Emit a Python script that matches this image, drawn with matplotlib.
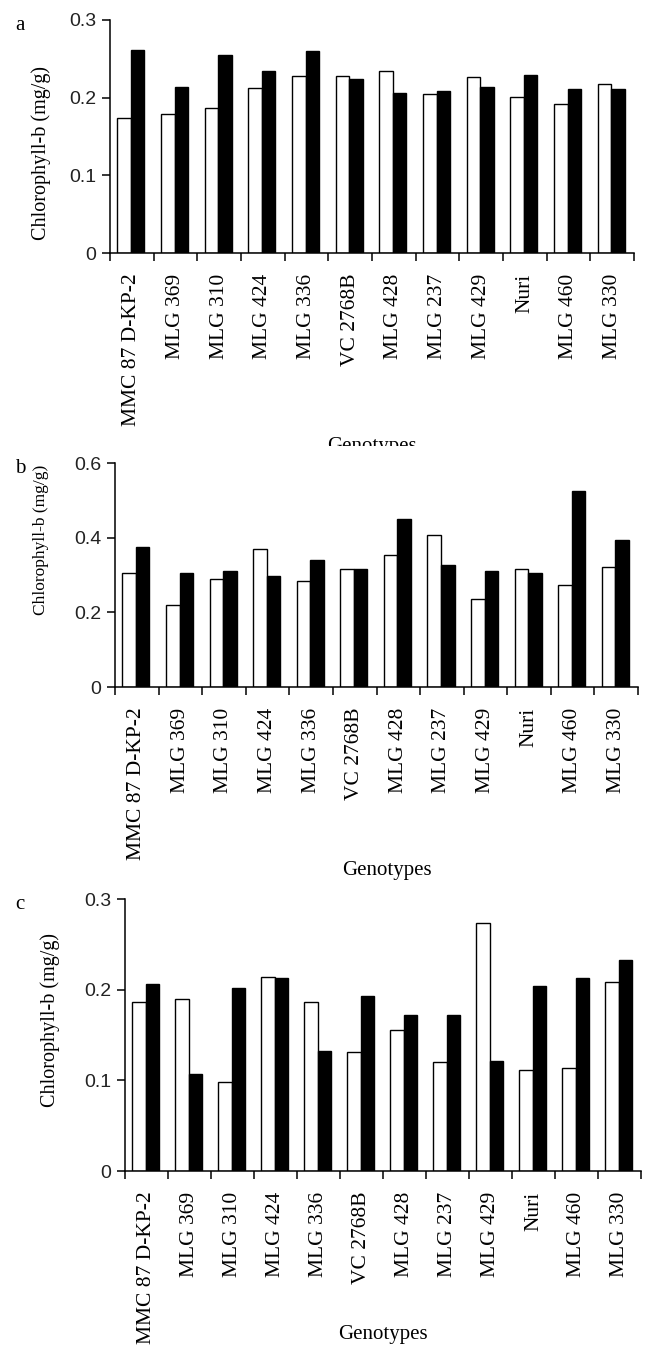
import matplotlib
matplotlib.use("Agg")
import matplotlib.pyplot as plt
import numpy as np
from matplotlib.transforms import Bbox

genotypes = ["MMC 87 D-KP-2", "MLG 369", "MLG 310", "MLG 424", "MLG 336", "VC 2768B",
             "MLG 428", "MLG 237", "MLG 429", "Nuri", "MLG 460", "MLG 330"]

# Chlorophyll-b (mg/g): open bars and filled bars per genotype
a_open = [0.174, 0.179, 0.187, 0.213, 0.228, 0.228, 0.234, 0.205, 0.226, 0.201, 0.192, 0.218]
a_filled = [0.262, 0.214, 0.255, 0.234, 0.260, 0.224, 0.206, 0.209, 0.214, 0.229, 0.211, 0.211]

b_open = [0.305, 0.220, 0.289, 0.370, 0.284, 0.316, 0.354, 0.407, 0.236, 0.317, 0.273, 0.321]
b_filled = [0.376, 0.305, 0.312, 0.297, 0.339, 0.316, 0.451, 0.328, 0.312, 0.306, 0.526, 0.393]

c_open = [0.186, 0.190, 0.098, 0.214, 0.186, 0.131, 0.155, 0.120, 0.274, 0.111, 0.114, 0.208]
c_filled = [0.206, 0.107, 0.202, 0.213, 0.132, 0.193, 0.172, 0.172, 0.121, 0.204, 0.213, 0.233]

a_ticks = [0, 0.1, 0.2, 0.3]
b_ticks = [0, 0.2, 0.4, 0.6]
c_ticks = [0, 0.1, 0.2, 0.3]
a_ticklabels = ["0", "0.1", "0.2", "0.3"]
b_ticklabels = ["0", "0.2", "0.4", "0.6"]
c_ticklabels = ["0", "0.1", "0.2", "0.3"]

W, H = 649, 1349
DPI = 100
fig = plt.figure(figsize=(W / DPI, H / DPI), dpi=DPI)

SERIF = ["Liberation Serif", "DejaVu Serif"]
SANS = ["Liberation Sans", "DejaVu Sans"]


def px_axes(left, right, top, bottom):
    return fig.add_axes([left / W, 1 - bottom / H, (right - left) / W, (bottom - top) / H])


panels = [
    dict(letter="a", box=(110, 634, 20, 253), opn=a_open, fil=a_filled, ticks=a_ticks,
         labels=a_ticklabels, ylab=(-0.132, 0.43), ysize=14.5, xlab=(0.5, -194 / 233), clip=446),
    dict(letter="b", box=(115, 638, 463, 687), opn=b_open, fil=b_filled, ticks=b_ticks,
         labels=b_ticklabels, ylab=(-0.141, 0.656), ysize=12.5, xlab=(0.52, -183 / 224), clip=None),
    dict(letter="c", box=(125, 641, 899, 1171), opn=c_open, fil=c_filled, ticks=c_ticks,
         labels=c_ticklabels, ylab=(-0.145, 0.555), ysize=14.5, xlab=(0.5, -164 / 272), clip=None),
]

n = len(genotypes)
x = np.arange(n) + 0.48
w = 0.31

for p in panels:
    left, right, top, bottom = p["box"]
    ax = px_axes(left, right, top, bottom)
    ax.bar(x - w / 2, p["opn"], width=w, color="white", edgecolor="black", linewidth=1.0)
    ax.bar(x + w / 2, p["fil"], width=w, color="black", edgecolor="black", linewidth=1.0)

    ax.set_xlim(0, n)
    ax.set_ylim(p["ticks"][0], p["ticks"][-1])
    for s in ("top", "right"):
        ax.spines[s].set_visible(False)
    for s in ("left", "bottom"):
        ax.spines[s].set_linewidth(1.1)

    ax.set_yticks(p["ticks"])
    ax.set_yticklabels(p["labels"], fontfamily=SANS, fontsize=14, color="#222222")
    ax.tick_params(axis="y", direction="out", length=6, width=1.1, pad=4)

    ax.set_xticks(np.arange(n) + 0.5)
    ax.set_xticklabels(genotypes, rotation=90, fontfamily=SERIF, fontsize=15.5,
                       va="top", ha="center")
    ax.set_xticks(np.arange(n + 1), minor=True)
    ax.tick_params(axis="x", which="major", length=0, pad=15)
    ax.tick_params(axis="x", which="minor", direction="out", length=6, width=1.1)

    ax.set_ylabel("Chlorophyll-b (mg/g)", fontfamily=SERIF, fontsize=p["ysize"])
    ax.yaxis.set_label_coords(*p["ylab"])
    ax.yaxis.label.set_va("center")
    ax.set_xlabel("Genotypes", fontfamily=SERIF, fontsize=15)
    ax.xaxis.set_label_coords(*p["xlab"])
    ax.xaxis.label.set_va("center")
    if p["clip"] is not None:
        ax.xaxis.label.set_clip_box(Bbox([[0, H - p["clip"]], [W, H]]))
        ax.xaxis.label.set_clip_on(True)

    fig.text(15 / W, 1 - (top - 4) / H, p["letter"], fontfamily=SERIF, fontsize=15,
             ha="left", va="top")

fig.savefig("out.png", dpi=DPI)
